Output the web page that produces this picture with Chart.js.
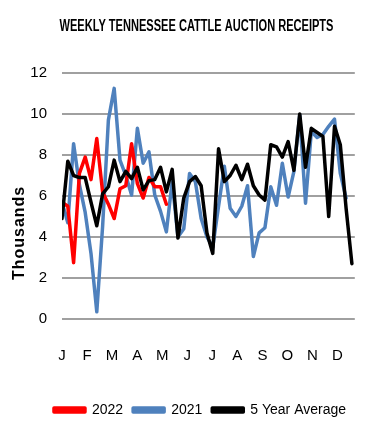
<!DOCTYPE html>
<html>
<head>
<meta charset="utf-8">
<script src="https://cdn.jsdelivr.net/npm/chart.js@4.4.1/dist/chart.umd.min.js"></script>
<style>
    html, body { margin: 0; padding: 0; background: #ffffff; }
    #wrap { width: 371px; height: 434px; }
</style>
</head>
<body>
<div id="wrap"><canvas id="grafCattle"></canvas></div>
<script>
// month letters along the bottom
const months = ['J', 'F', 'M', 'A', 'M', 'J', 'J', 'A', 'S', 'O', 'N', 'D'];

// weekly receipts, thousands of head
const receipts2022 = [5.7, 5.5, 2.75, 7.1, 7.9, 6.8, 8.8, 6.2, 5.6, 4.9, 6.35, 6.5, 8.55, 6.6, 5.9, 6.9, 6.45, 6.45, 5.6];

const receipts2021 = [
    5.7, 4.7, 8.55, 6.55, 5.2, 3.2, 0.35, 4.5, 9.7, 11.25,
    7.75, 7.0, 6.05, 9.3, 7.6, 8.15, 6.05, 5.25, 4.25, 6.7,
    4.0, 4.4, 7.1, 6.7, 4.9, 4.0, 3.5, 5.5, 7.45, 5.4,
    5.0, 5.5, 6.5, 3.05, 4.2, 4.45, 6.45, 5.55, 7.6, 5.95,
    7.2, 9.95, 5.65, 9.15, 8.85, 9.0, 9.4, 9.75, 7.1, 5.9
];

const fiveYearAvg = [
    4.9, 7.7, 7.0, 6.9, 6.9, 5.7, 4.55, 6.1, 6.45, 7.75,
    6.7, 7.2, 6.85, 7.4, 6.3, 6.75, 6.8, 7.4, 6.2, 7.3,
    3.95, 5.9, 6.7, 6.95, 6.5, 4.2, 3.2, 8.3, 6.7, 7.0,
    7.5, 6.8, 7.55, 6.5, 6.05, 5.8, 8.5, 8.4, 7.9, 8.65,
    7.25, 10.0, 7.4, 9.3, 9.1, 8.9, 5.0, 9.4, 8.5, 5.4,
    2.7
];

const yTicks = [0, 2, 4, 6, 8, 10, 12];

const TITLE = 'WEEKLY TENNESSEE CATTLE AUCTION RECEIPTS';
const FONT = '"Liberation Sans", Arial, sans-serif';
const WEEKS_PER_MONTH = 4.32;

function toPoints(values) {
    return values.map((v, i) => ({ x: i, y: v }));
}

// title is a tall narrow bold face in the original, so squeeze it to width
const narrowTitle = {
    id: 'narrowTitle',
    afterDraw(chart) {
        const ctx = chart.ctx;
        ctx.save();
        ctx.font = 'bold 16px ' + FONT;
        const w = ctx.measureText(TITLE).width;
        ctx.translate(196.5, 27);
        ctx.scale(274 / w, 1);
        ctx.textAlign = 'center';
        ctx.textBaseline = 'middle';
        ctx.fillStyle = '#000000';
        ctx.fillText(TITLE, 0, 0);
        ctx.restore();
    }
};

// rotated axis title, sits below the middle like the original
const thousandsLabel = {
    id: 'thousandsLabel',
    afterDraw(chart) {
        const area = chart.chartArea;
        const ctx = chart.ctx;
        ctx.save();
        ctx.translate(20, area.top + (area.bottom - area.top) * 0.65);
        ctx.rotate(-Math.PI / 2);
        ctx.font = 'bold 16px ' + FONT;
        ctx.letterSpacing = '1px';
        ctx.textAlign = 'center';
        ctx.textBaseline = 'middle';
        ctx.fillStyle = '#000000';
        ctx.fillText('Thousands', 0, 0);
        ctx.restore();
    }
};

const data = {
    datasets: [
        {
            label: '2022',
            data: toPoints(receipts2022),
            borderColor: '#ff0000',
            backgroundColor: '#ff0000',
            order: 1
        },
        {
            label: '2021',
            data: toPoints(receipts2021),
            borderColor: '#4f81bd',
            backgroundColor: '#4f81bd',
            order: 2
        },
        {
            label: '5 Year Average',
            data: toPoints(fiveYearAvg),
            borderColor: '#000000',
            backgroundColor: '#000000',
            order: 0
        }
    ]
};

const config = {
    type: 'line',
    data: data,
    options: {
        responsive: true,
        maintainAspectRatio: false,
        animation: false,
        elements: {
            line: { borderWidth: 3.5, tension: 0, borderJoinStyle: 'round', borderCapStyle: 'round' },
            point: { radius: 0 }
        },
        layout: {
            padding: { left: 30, right: 1, top: 73, bottom: 7 }
        },
        plugins: {
            title: { display: false },
            legend: {
                position: 'bottom',
                labels: {
                    color: '#000000',
                    font: { family: FONT, size: 14 },
                    boxWidth: 31,
                    boxHeight: 4,
                    padding: 10,
                    sort: (a, b) => a.datasetIndex - b.datasetIndex
                }
            },
            tooltip: { enabled: false }
        },
        scales: {
            x: {
                type: 'linear',
                min: 0,
                max: 50.5,
                grid: { display: false, drawTicks: false },
                border: { display: false },
                afterBuildTicks: (scale) => {
                    scale.ticks = months.map((m, i) => ({ value: i * WEEKS_PER_MONTH }));
                },
                afterFit: (scale) => {
                    scale.height = 74;
                },
                ticks: {
                    autoSkip: false,
                    maxRotation: 0,
                    padding: 28,
                    color: '#000000',
                    font: { family: FONT, size: 15 },
                    callback: (value, index) => months[index]
                }
            },
            y: {
                min: yTicks[0],
                max: yTicks[yTicks.length - 1],
                grid: { color: '#a0a0a0', lineWidth: 2, drawTicks: false },
                border: { display: false },
                afterBuildTicks: (scale) => {
                    scale.ticks = yTicks.map(v => ({ value: v }));
                },
                afterFit: (scale) => {
                    scale.width = 32;
                },
                ticks: {
                    padding: 15,
                    color: '#000000',
                    font: { family: FONT, size: 15 }
                }
            }
        }
    },
    plugins: [narrowTitle, thousandsLabel]
};

const ctx = document.getElementById('grafCattle').getContext('2d');
window.cattleChart = new Chart(ctx, config);
</script>
</body>
</html>
